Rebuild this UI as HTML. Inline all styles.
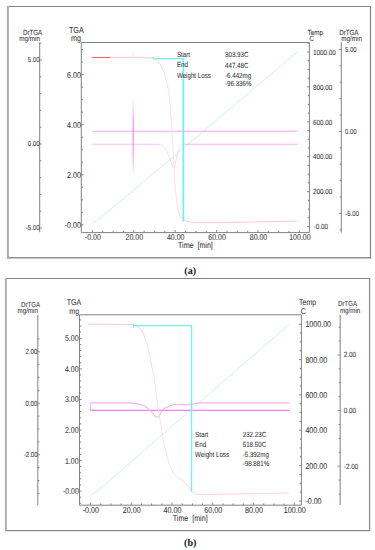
<!DOCTYPE html>
<html><head><meta charset="utf-8"><title>TGA curves</title>
<style>
html,body{margin:0;padding:0;background:#fff;}
body{width:375px;height:550px;overflow:hidden;font-family:"Liberation Sans",sans-serif;}
svg{display:block;}
text{text-rendering:geometricPrecision;}
</style></head>
<body>
<svg width="375" height="550" viewBox="0 0 375 550" font-family="Liberation Sans">
<rect x="0" y="0" width="375" height="550" fill="#fff"/>
<line x1="6.90" y1="6.50" x2="371.20" y2="6.50" stroke="#848484" stroke-width="1.1" />
<line x1="6.90" y1="257.80" x2="371.20" y2="257.80" stroke="#929292" stroke-width="1.4" />
<line x1="7.90" y1="6.00" x2="7.90" y2="258.50" stroke="#ababab" stroke-width="2.0" />
<line x1="370.50" y1="6.00" x2="370.50" y2="258.50" stroke="#8a8a8a" stroke-width="1.3" />
<line x1="81.30" y1="42.50" x2="309.40" y2="42.50" stroke="#828282" stroke-width="1.0" />
<line x1="81.30" y1="232.60" x2="309.40" y2="232.60" stroke="#828282" stroke-width="1.0" />
<line x1="81.30" y1="42.50" x2="81.30" y2="232.60" stroke="#828282" stroke-width="1.0" />
<line x1="309.40" y1="42.50" x2="309.40" y2="232.60" stroke="#828282" stroke-width="1.0" />
<line x1="92.40" y1="232.60" x2="92.40" y2="230.00" stroke="#828282" stroke-width="0.9" />
<line x1="102.75" y1="232.60" x2="102.75" y2="230.80" stroke="#828282" stroke-width="1.0" />
<line x1="113.10" y1="232.60" x2="113.10" y2="230.80" stroke="#828282" stroke-width="1.0" />
<line x1="123.45" y1="232.60" x2="123.45" y2="230.80" stroke="#828282" stroke-width="1.0" />
<line x1="133.80" y1="232.60" x2="133.80" y2="230.00" stroke="#828282" stroke-width="0.9" />
<line x1="144.15" y1="232.60" x2="144.15" y2="230.80" stroke="#828282" stroke-width="1.0" />
<line x1="154.50" y1="232.60" x2="154.50" y2="230.80" stroke="#828282" stroke-width="1.0" />
<line x1="164.85" y1="232.60" x2="164.85" y2="230.80" stroke="#828282" stroke-width="1.0" />
<line x1="175.20" y1="232.60" x2="175.20" y2="230.00" stroke="#828282" stroke-width="0.9" />
<line x1="185.55" y1="232.60" x2="185.55" y2="230.80" stroke="#828282" stroke-width="1.0" />
<line x1="195.90" y1="232.60" x2="195.90" y2="230.80" stroke="#828282" stroke-width="1.0" />
<line x1="206.25" y1="232.60" x2="206.25" y2="230.80" stroke="#828282" stroke-width="1.0" />
<line x1="216.60" y1="232.60" x2="216.60" y2="230.00" stroke="#828282" stroke-width="0.9" />
<line x1="226.95" y1="232.60" x2="226.95" y2="230.80" stroke="#828282" stroke-width="1.0" />
<line x1="237.30" y1="232.60" x2="237.30" y2="230.80" stroke="#828282" stroke-width="1.0" />
<line x1="247.65" y1="232.60" x2="247.65" y2="230.80" stroke="#828282" stroke-width="1.0" />
<line x1="258.00" y1="232.60" x2="258.00" y2="230.00" stroke="#828282" stroke-width="0.9" />
<line x1="268.35" y1="232.60" x2="268.35" y2="230.80" stroke="#828282" stroke-width="1.0" />
<line x1="278.70" y1="232.60" x2="278.70" y2="230.80" stroke="#828282" stroke-width="1.0" />
<line x1="289.05" y1="232.60" x2="289.05" y2="230.80" stroke="#828282" stroke-width="1.0" />
<line x1="299.40" y1="232.60" x2="299.40" y2="230.00" stroke="#828282" stroke-width="0.9" />
<text transform="translate(92.80,239.90) scale(1,1.2)" font-size="7.0" text-anchor="middle" fill="#333" font-family="Liberation Sans" stroke="#333" stroke-width="0.05" >-0.00</text>
<text transform="translate(134.30,239.90) scale(1,1.2)" font-size="7.0" text-anchor="middle" fill="#333" font-family="Liberation Sans" stroke="#333" stroke-width="0.05" >20.00</text>
<text transform="translate(175.70,239.90) scale(1,1.2)" font-size="7.0" text-anchor="middle" fill="#333" font-family="Liberation Sans" stroke="#333" stroke-width="0.05" >40.00</text>
<text transform="translate(217.10,239.90) scale(1,1.2)" font-size="7.0" text-anchor="middle" fill="#333" font-family="Liberation Sans" stroke="#333" stroke-width="0.05" >60.00</text>
<text transform="translate(258.50,239.90) scale(1,1.2)" font-size="7.0" text-anchor="middle" fill="#333" font-family="Liberation Sans" stroke="#333" stroke-width="0.05" >80.00</text>
<text transform="translate(299.90,239.90) scale(1,1.2)" font-size="7.0" text-anchor="middle" fill="#333" font-family="Liberation Sans" stroke="#333" stroke-width="0.05" >100.00</text>
<text transform="translate(178.00,248.20) scale(1,1.2)" font-size="7.1" text-anchor="start" fill="#333" font-family="Liberation Sans" stroke="#333" stroke-width="0.05" >Time&#160;&#160;[min]</text>
<line x1="81.30" y1="224.90" x2="83.70" y2="224.90" stroke="#828282" stroke-width="0.9" />
<line x1="81.30" y1="212.38" x2="83.00" y2="212.38" stroke="#828282" stroke-width="1.0" />
<line x1="81.30" y1="199.85" x2="83.00" y2="199.85" stroke="#828282" stroke-width="1.0" />
<line x1="81.30" y1="187.32" x2="83.00" y2="187.32" stroke="#828282" stroke-width="1.0" />
<line x1="81.30" y1="174.80" x2="83.70" y2="174.80" stroke="#828282" stroke-width="0.9" />
<line x1="81.30" y1="162.28" x2="83.00" y2="162.28" stroke="#828282" stroke-width="1.0" />
<line x1="81.30" y1="149.75" x2="83.00" y2="149.75" stroke="#828282" stroke-width="1.0" />
<line x1="81.30" y1="137.23" x2="83.00" y2="137.23" stroke="#828282" stroke-width="1.0" />
<line x1="81.30" y1="124.70" x2="83.70" y2="124.70" stroke="#828282" stroke-width="0.9" />
<line x1="81.30" y1="112.17" x2="83.00" y2="112.17" stroke="#828282" stroke-width="1.0" />
<line x1="81.30" y1="99.65" x2="83.00" y2="99.65" stroke="#828282" stroke-width="1.0" />
<line x1="81.30" y1="87.12" x2="83.00" y2="87.12" stroke="#828282" stroke-width="1.0" />
<line x1="81.30" y1="74.60" x2="83.70" y2="74.60" stroke="#828282" stroke-width="0.9" />
<line x1="81.30" y1="62.07" x2="83.00" y2="62.07" stroke="#828282" stroke-width="1.0" />
<line x1="81.30" y1="49.55" x2="83.00" y2="49.55" stroke="#828282" stroke-width="1.0" />
<text transform="translate(80.90,77.60) scale(1,1.2)" font-size="7.1" text-anchor="end" fill="#333" font-family="Liberation Sans" stroke="#333" stroke-width="0.05" >6.00</text>
<text transform="translate(80.90,127.70) scale(1,1.2)" font-size="7.1" text-anchor="end" fill="#333" font-family="Liberation Sans" stroke="#333" stroke-width="0.05" >4.00</text>
<text transform="translate(80.90,177.80) scale(1,1.2)" font-size="7.1" text-anchor="end" fill="#333" font-family="Liberation Sans" stroke="#333" stroke-width="0.05" >2.00</text>
<text transform="translate(80.90,227.90) scale(1,1.2)" font-size="7.1" text-anchor="end" fill="#333" font-family="Liberation Sans" stroke="#333" stroke-width="0.05" >-0.00</text>
<text transform="translate(76.30,32.90) scale(1,1.2)" font-size="7.2" text-anchor="middle" fill="#333" font-family="Liberation Sans" stroke="#333" stroke-width="0.05" >TGA</text>
<text transform="translate(76.00,41.30) scale(1,1.2)" font-size="7.2" text-anchor="middle" fill="#333" font-family="Liberation Sans" stroke="#333" stroke-width="0.05" >mg</text>
<line x1="39.70" y1="42.50" x2="39.70" y2="232.30" stroke="#828282" stroke-width="1.0" />
<line x1="39.70" y1="228.00" x2="42.00" y2="228.00" stroke="#828282" stroke-width="0.9" />
<line x1="39.70" y1="211.20" x2="41.30" y2="211.20" stroke="#828282" stroke-width="1.0" />
<line x1="39.70" y1="194.40" x2="41.30" y2="194.40" stroke="#828282" stroke-width="1.0" />
<line x1="39.70" y1="177.60" x2="41.30" y2="177.60" stroke="#828282" stroke-width="1.0" />
<line x1="39.70" y1="160.80" x2="41.30" y2="160.80" stroke="#828282" stroke-width="1.0" />
<line x1="39.70" y1="144.00" x2="42.00" y2="144.00" stroke="#828282" stroke-width="0.9" />
<line x1="39.70" y1="127.20" x2="41.30" y2="127.20" stroke="#828282" stroke-width="1.0" />
<line x1="39.70" y1="110.40" x2="41.30" y2="110.40" stroke="#828282" stroke-width="1.0" />
<line x1="39.70" y1="93.60" x2="41.30" y2="93.60" stroke="#828282" stroke-width="1.0" />
<line x1="39.70" y1="76.80" x2="41.30" y2="76.80" stroke="#828282" stroke-width="1.0" />
<line x1="39.70" y1="60.00" x2="42.00" y2="60.00" stroke="#828282" stroke-width="0.9" />
<line x1="39.70" y1="43.20" x2="41.30" y2="43.20" stroke="#828282" stroke-width="1.0" />
<text transform="translate(39.50,62.40) scale(1,1.2)" font-size="6.0" text-anchor="end" fill="#333" font-family="Liberation Sans" stroke="#333" stroke-width="0.05" >5.00</text>
<text transform="translate(39.50,146.40) scale(1,1.2)" font-size="6.0" text-anchor="end" fill="#333" font-family="Liberation Sans" stroke="#333" stroke-width="0.05" >0.00</text>
<text transform="translate(39.50,230.40) scale(1,1.2)" font-size="6.0" text-anchor="end" fill="#333" font-family="Liberation Sans" stroke="#333" stroke-width="0.05" >-5.00</text>
<text transform="translate(32.60,34.60) scale(1,1.2)" font-size="6.2" text-anchor="middle" fill="#333" font-family="Liberation Sans" stroke="#333" stroke-width="0.05" >DrTGA</text>
<text transform="translate(29.70,41.10) scale(1,1.2)" font-size="6.3" text-anchor="middle" fill="#333" font-family="Liberation Sans" stroke="#333" stroke-width="0.05" >mg/min</text>
<line x1="309.40" y1="226.50" x2="306.90" y2="226.50" stroke="#828282" stroke-width="0.9" />
<line x1="309.40" y1="217.78" x2="307.70" y2="217.78" stroke="#828282" stroke-width="1.0" />
<line x1="309.40" y1="209.05" x2="307.70" y2="209.05" stroke="#828282" stroke-width="1.0" />
<line x1="309.40" y1="200.32" x2="307.70" y2="200.32" stroke="#828282" stroke-width="1.0" />
<line x1="309.40" y1="191.60" x2="306.90" y2="191.60" stroke="#828282" stroke-width="0.9" />
<line x1="309.40" y1="182.88" x2="307.70" y2="182.88" stroke="#828282" stroke-width="1.0" />
<line x1="309.40" y1="174.15" x2="307.70" y2="174.15" stroke="#828282" stroke-width="1.0" />
<line x1="309.40" y1="165.43" x2="307.70" y2="165.43" stroke="#828282" stroke-width="1.0" />
<line x1="309.40" y1="156.70" x2="306.90" y2="156.70" stroke="#828282" stroke-width="0.9" />
<line x1="309.40" y1="147.98" x2="307.70" y2="147.98" stroke="#828282" stroke-width="1.0" />
<line x1="309.40" y1="139.25" x2="307.70" y2="139.25" stroke="#828282" stroke-width="1.0" />
<line x1="309.40" y1="130.53" x2="307.70" y2="130.53" stroke="#828282" stroke-width="1.0" />
<line x1="309.40" y1="121.80" x2="306.90" y2="121.80" stroke="#828282" stroke-width="0.9" />
<line x1="309.40" y1="113.08" x2="307.70" y2="113.08" stroke="#828282" stroke-width="1.0" />
<line x1="309.40" y1="104.35" x2="307.70" y2="104.35" stroke="#828282" stroke-width="1.0" />
<line x1="309.40" y1="95.62" x2="307.70" y2="95.62" stroke="#828282" stroke-width="1.0" />
<line x1="309.40" y1="86.90" x2="306.90" y2="86.90" stroke="#828282" stroke-width="0.9" />
<line x1="309.40" y1="78.18" x2="307.70" y2="78.18" stroke="#828282" stroke-width="1.0" />
<line x1="309.40" y1="69.45" x2="307.70" y2="69.45" stroke="#828282" stroke-width="1.0" />
<line x1="309.40" y1="60.73" x2="307.70" y2="60.73" stroke="#828282" stroke-width="1.0" />
<line x1="309.40" y1="52.00" x2="306.90" y2="52.00" stroke="#828282" stroke-width="0.9" />
<line x1="309.40" y1="43.28" x2="307.70" y2="43.28" stroke="#828282" stroke-width="1.0" />
<text transform="translate(313.00,54.70) scale(1,1.2)" font-size="6.3" text-anchor="start" fill="#333" font-family="Liberation Sans" stroke="#333" stroke-width="0.05" >1000.00</text>
<text transform="translate(313.00,89.60) scale(1,1.2)" font-size="6.3" text-anchor="start" fill="#333" font-family="Liberation Sans" stroke="#333" stroke-width="0.05" >800.00</text>
<text transform="translate(313.00,124.50) scale(1,1.2)" font-size="6.3" text-anchor="start" fill="#333" font-family="Liberation Sans" stroke="#333" stroke-width="0.05" >600.00</text>
<text transform="translate(313.00,159.40) scale(1,1.2)" font-size="6.3" text-anchor="start" fill="#333" font-family="Liberation Sans" stroke="#333" stroke-width="0.05" >400.00</text>
<text transform="translate(313.00,194.30) scale(1,1.2)" font-size="6.3" text-anchor="start" fill="#333" font-family="Liberation Sans" stroke="#333" stroke-width="0.05" >200.00</text>
<text transform="translate(313.60,229.20) scale(1,1.2)" font-size="6.3" text-anchor="start" fill="#333" font-family="Liberation Sans" stroke="#333" stroke-width="0.05" >-0.00</text>
<text transform="translate(307.60,34.50) scale(1,1.2)" font-size="6.3" text-anchor="start" fill="#333" font-family="Liberation Sans" stroke="#333" stroke-width="0.05" >Temp</text>
<text transform="translate(309.40,41.10) scale(1,1.2)" font-size="6.3" text-anchor="start" fill="#333" font-family="Liberation Sans" stroke="#333" stroke-width="0.05" >C</text>
<line x1="341.30" y1="42.20" x2="341.30" y2="232.70" stroke="#828282" stroke-width="1.0" />
<line x1="341.30" y1="229.80" x2="339.70" y2="229.80" stroke="#828282" stroke-width="1.0" />
<line x1="341.30" y1="213.40" x2="338.70" y2="213.40" stroke="#828282" stroke-width="0.9" />
<line x1="341.30" y1="197.00" x2="339.70" y2="197.00" stroke="#828282" stroke-width="1.0" />
<line x1="341.30" y1="180.60" x2="339.70" y2="180.60" stroke="#828282" stroke-width="1.0" />
<line x1="341.30" y1="164.20" x2="339.70" y2="164.20" stroke="#828282" stroke-width="1.0" />
<line x1="341.30" y1="147.80" x2="339.70" y2="147.80" stroke="#828282" stroke-width="1.0" />
<line x1="341.30" y1="131.40" x2="338.70" y2="131.40" stroke="#828282" stroke-width="0.9" />
<line x1="341.30" y1="115.00" x2="339.70" y2="115.00" stroke="#828282" stroke-width="1.0" />
<line x1="341.30" y1="98.60" x2="339.70" y2="98.60" stroke="#828282" stroke-width="1.0" />
<line x1="341.30" y1="82.20" x2="339.70" y2="82.20" stroke="#828282" stroke-width="1.0" />
<line x1="341.30" y1="65.80" x2="339.70" y2="65.80" stroke="#828282" stroke-width="1.0" />
<line x1="341.30" y1="49.40" x2="338.70" y2="49.40" stroke="#828282" stroke-width="0.9" />
<text transform="translate(344.90,52.00) scale(1,1.2)" font-size="6.0" text-anchor="start" fill="#333" font-family="Liberation Sans" stroke="#333" stroke-width="0.05" >5.00</text>
<text transform="translate(344.90,134.00) scale(1,1.2)" font-size="6.0" text-anchor="start" fill="#333" font-family="Liberation Sans" stroke="#333" stroke-width="0.05" >0.00</text>
<text transform="translate(345.30,216.00) scale(1,1.2)" font-size="6.0" text-anchor="start" fill="#333" font-family="Liberation Sans" stroke="#333" stroke-width="0.05" >-5.00</text>
<text transform="translate(348.80,34.50) scale(1,1.2)" font-size="6.2" text-anchor="middle" fill="#333" font-family="Liberation Sans" stroke="#333" stroke-width="0.05" >DrTGA</text>
<text transform="translate(351.60,41.10) scale(1,1.2)" font-size="6.3" text-anchor="middle" fill="#333" font-family="Liberation Sans" stroke="#333" stroke-width="0.05" >mg/min</text>
<path d="M92.10,223.20 L100.70,217.90 L297.60,51.80" fill="none" stroke="#c2f7dc" stroke-width="1.0" stroke-linejoin="round" />
<line x1="92.30" y1="131.30" x2="297.60" y2="131.30" stroke="#f5a6f5" stroke-width="1.1" />
<line x1="92.30" y1="144.20" x2="158.00" y2="144.20" stroke="#f6c0f6" stroke-width="1.1" />
<line x1="183.00" y1="144.20" x2="297.60" y2="144.20" stroke="#f4b0f4" stroke-width="1.1" />
<path d="M158,144.2 C161,144.4 164,146 166,149.5 C168,153.5 170,159 171.5,163.5 C172.5,166 173.2,168 173.8,168 C174.5,168 175.5,163 177,156 C178.5,150 180,146.5 181.5,145.2 C182.2,144.5 182.6,144.2 183.2,144.2" fill="none" stroke="#f8d2f8" stroke-width="1.0" stroke-linejoin="round" />
<defs><linearGradient id="spk" x1="0" y1="98" x2="0" y2="175" gradientUnits="userSpaceOnUse"><stop offset="0" stop-color="#ee66ee" stop-opacity="0.05"/><stop offset="0.12" stop-color="#ee66ee" stop-opacity="0.3"/><stop offset="0.3" stop-color="#ee66ee" stop-opacity="0.75"/><stop offset="0.5" stop-color="#ee66ee" stop-opacity="0.85"/><stop offset="0.8" stop-color="#ee66ee" stop-opacity="0.55"/><stop offset="1" stop-color="#ee66ee" stop-opacity="0.05"/></linearGradient></defs>
<rect x="132.6" y="98" width="1.15" height="77" fill="url(#spk)"/>
<defs><linearGradient id="pka" x1="0" y1="56" x2="0" y2="224" gradientUnits="userSpaceOnUse"><stop offset="0" stop-color="#fbcbcf"/><stop offset="0.06" stop-color="#fbcfd2"/><stop offset="0.15" stop-color="#fde0e2"/><stop offset="0.85" stop-color="#fde0e2"/><stop offset="0.96" stop-color="#fbd0d3"/><stop offset="1" stop-color="#fbcbcf"/></linearGradient></defs>
<path d="M110,57.5 L150,57.8 C154,58 156,59 157.3,60.5 C159.5,63 161,65.5 162.4,68.5 C164,72 165,75 165.6,78 C166.5,81 167.3,84 167.8,86.7 C168.3,89 168.7,92 169,94 C170,105 171,118 171.9,130 C172.5,140 172.9,146 173.1,150 C173.5,160 173.8,165 174.1,170 C174.6,180 175.2,188 176,195 C176.8,203 177.8,209 179.6,215.3 C181.5,219 184.5,220.8 188,221.6 C192,222.2 196,222.5 200,222.6 L230,222.4 L297,221.1" fill="none" stroke="url(#pka)" stroke-width="1.0" stroke-linejoin="round" />
<line x1="133.10" y1="57.60" x2="133.10" y2="51.60" stroke="#fcd3d6" stroke-width="0.9" />
<line x1="91.70" y1="57.50" x2="110.40" y2="57.50" stroke="#f56868" stroke-width="1.1" />
<line x1="153.30" y1="58.60" x2="183.30" y2="58.60" stroke="#6cf3f3" stroke-width="1.15" />
<line x1="183.30" y1="58.10" x2="183.30" y2="221.50" stroke="#6cf3f3" stroke-width="1.7" />
<line x1="153.30" y1="56.90" x2="153.30" y2="59.80" stroke="#6cf3f3" stroke-width="1.0" />
<text transform="translate(176.90,57.00) scale(1,1.2)" font-size="6.2" text-anchor="start" fill="#333" font-family="Liberation Sans" stroke="#333" stroke-width="0.05" >Start</text>
<text transform="translate(176.90,67.30) scale(1,1.2)" font-size="6.2" text-anchor="start" fill="#333" font-family="Liberation Sans" stroke="#333" stroke-width="0.05" >End</text>
<text transform="translate(176.90,77.50) scale(1,1.2)" font-size="6.2" text-anchor="start" fill="#333" font-family="Liberation Sans" stroke="#333" stroke-width="0.05" >Weight Loss</text>
<text transform="translate(225.00,57.20) scale(1,1.2)" font-size="6.2" text-anchor="start" fill="#333" font-family="Liberation Sans" stroke="#333" stroke-width="0.05" >303.93C</text>
<text transform="translate(225.00,67.50) scale(1,1.2)" font-size="6.2" text-anchor="start" fill="#333" font-family="Liberation Sans" stroke="#333" stroke-width="0.05" >447.48C</text>
<text transform="translate(225.00,77.50) scale(1,1.2)" font-size="6.2" text-anchor="start" fill="#333" font-family="Liberation Sans" stroke="#333" stroke-width="0.05" >-6.442mg</text>
<text transform="translate(225.00,85.80) scale(1,1.2)" font-size="6.2" text-anchor="start" fill="#333" font-family="Liberation Sans" stroke="#333" stroke-width="0.05" >-96.336%</text>
<text x="190.20" y="274.40" font-size="10.2" text-anchor="middle" fill="#1a1a1a" font-weight="bold" font-family="Liberation Serif" >(a)</text>
<line x1="4.90" y1="278.50" x2="370.20" y2="278.50" stroke="#848484" stroke-width="1.1" />
<line x1="4.90" y1="530.60" x2="370.20" y2="530.60" stroke="#8a8a8a" stroke-width="1.3" />
<line x1="5.90" y1="278.00" x2="5.90" y2="531.20" stroke="#b0b0b0" stroke-width="2.0" />
<line x1="369.60" y1="278.00" x2="369.60" y2="531.20" stroke="#8f8f8f" stroke-width="1.3" />
<line x1="79.50" y1="314.80" x2="301.40" y2="314.80" stroke="#828282" stroke-width="1.0" />
<line x1="79.50" y1="505.20" x2="301.40" y2="505.20" stroke="#828282" stroke-width="1.0" />
<line x1="79.50" y1="314.80" x2="79.50" y2="505.20" stroke="#828282" stroke-width="1.0" />
<line x1="301.40" y1="314.80" x2="301.40" y2="505.20" stroke="#828282" stroke-width="1.0" />
<line x1="90.50" y1="505.20" x2="90.50" y2="502.60" stroke="#828282" stroke-width="0.9" />
<line x1="100.69" y1="505.20" x2="100.69" y2="503.40" stroke="#828282" stroke-width="1.0" />
<line x1="110.88" y1="505.20" x2="110.88" y2="503.40" stroke="#828282" stroke-width="1.0" />
<line x1="121.07" y1="505.20" x2="121.07" y2="503.40" stroke="#828282" stroke-width="1.0" />
<line x1="131.26" y1="505.20" x2="131.26" y2="502.60" stroke="#828282" stroke-width="0.9" />
<line x1="141.45" y1="505.20" x2="141.45" y2="503.40" stroke="#828282" stroke-width="1.0" />
<line x1="151.64" y1="505.20" x2="151.64" y2="503.40" stroke="#828282" stroke-width="1.0" />
<line x1="161.83" y1="505.20" x2="161.83" y2="503.40" stroke="#828282" stroke-width="1.0" />
<line x1="172.02" y1="505.20" x2="172.02" y2="502.60" stroke="#828282" stroke-width="0.9" />
<line x1="182.21" y1="505.20" x2="182.21" y2="503.40" stroke="#828282" stroke-width="1.0" />
<line x1="192.40" y1="505.20" x2="192.40" y2="503.40" stroke="#828282" stroke-width="1.0" />
<line x1="202.59" y1="505.20" x2="202.59" y2="503.40" stroke="#828282" stroke-width="1.0" />
<line x1="212.78" y1="505.20" x2="212.78" y2="502.60" stroke="#828282" stroke-width="0.9" />
<line x1="222.97" y1="505.20" x2="222.97" y2="503.40" stroke="#828282" stroke-width="1.0" />
<line x1="233.16" y1="505.20" x2="233.16" y2="503.40" stroke="#828282" stroke-width="1.0" />
<line x1="243.35" y1="505.20" x2="243.35" y2="503.40" stroke="#828282" stroke-width="1.0" />
<line x1="253.54" y1="505.20" x2="253.54" y2="502.60" stroke="#828282" stroke-width="0.9" />
<line x1="263.73" y1="505.20" x2="263.73" y2="503.40" stroke="#828282" stroke-width="1.0" />
<line x1="273.92" y1="505.20" x2="273.92" y2="503.40" stroke="#828282" stroke-width="1.0" />
<line x1="284.11" y1="505.20" x2="284.11" y2="503.40" stroke="#828282" stroke-width="1.0" />
<line x1="294.30" y1="505.20" x2="294.30" y2="502.60" stroke="#828282" stroke-width="0.9" />
<text transform="translate(90.90,512.60) scale(1,1.2)" font-size="7.2" text-anchor="middle" fill="#333" font-family="Liberation Sans" stroke="#333" stroke-width="0.05" >-0.00</text>
<text transform="translate(131.66,512.60) scale(1,1.2)" font-size="7.2" text-anchor="middle" fill="#333" font-family="Liberation Sans" stroke="#333" stroke-width="0.05" >20.00</text>
<text transform="translate(172.42,512.60) scale(1,1.2)" font-size="7.2" text-anchor="middle" fill="#333" font-family="Liberation Sans" stroke="#333" stroke-width="0.05" >40.00</text>
<text transform="translate(213.18,512.60) scale(1,1.2)" font-size="7.2" text-anchor="middle" fill="#333" font-family="Liberation Sans" stroke="#333" stroke-width="0.05" >60.00</text>
<text transform="translate(253.94,512.60) scale(1,1.2)" font-size="7.2" text-anchor="middle" fill="#333" font-family="Liberation Sans" stroke="#333" stroke-width="0.05" >80.00</text>
<text transform="translate(294.70,512.60) scale(1,1.2)" font-size="7.2" text-anchor="middle" fill="#333" font-family="Liberation Sans" stroke="#333" stroke-width="0.05" >100.00</text>
<text transform="translate(172.80,520.80) scale(1,1.2)" font-size="7.1" text-anchor="start" fill="#333" font-family="Liberation Sans" stroke="#333" stroke-width="0.05" >Time&#160;&#160;[min]</text>
<line x1="79.50" y1="503.32" x2="81.20" y2="503.32" stroke="#828282" stroke-width="1.0" />
<line x1="79.50" y1="497.21" x2="81.20" y2="497.21" stroke="#828282" stroke-width="1.0" />
<line x1="79.50" y1="491.10" x2="81.90" y2="491.10" stroke="#828282" stroke-width="0.9" />
<line x1="79.50" y1="484.99" x2="81.20" y2="484.99" stroke="#828282" stroke-width="1.0" />
<line x1="79.50" y1="478.88" x2="81.20" y2="478.88" stroke="#828282" stroke-width="1.0" />
<line x1="79.50" y1="472.76" x2="81.20" y2="472.76" stroke="#828282" stroke-width="1.0" />
<line x1="79.50" y1="466.65" x2="81.20" y2="466.65" stroke="#828282" stroke-width="1.0" />
<line x1="79.50" y1="460.54" x2="81.90" y2="460.54" stroke="#828282" stroke-width="0.9" />
<line x1="79.50" y1="454.43" x2="81.20" y2="454.43" stroke="#828282" stroke-width="1.0" />
<line x1="79.50" y1="448.32" x2="81.20" y2="448.32" stroke="#828282" stroke-width="1.0" />
<line x1="79.50" y1="442.20" x2="81.20" y2="442.20" stroke="#828282" stroke-width="1.0" />
<line x1="79.50" y1="436.09" x2="81.20" y2="436.09" stroke="#828282" stroke-width="1.0" />
<line x1="79.50" y1="429.98" x2="81.90" y2="429.98" stroke="#828282" stroke-width="0.9" />
<line x1="79.50" y1="423.87" x2="81.20" y2="423.87" stroke="#828282" stroke-width="1.0" />
<line x1="79.50" y1="417.76" x2="81.20" y2="417.76" stroke="#828282" stroke-width="1.0" />
<line x1="79.50" y1="411.64" x2="81.20" y2="411.64" stroke="#828282" stroke-width="1.0" />
<line x1="79.50" y1="405.53" x2="81.20" y2="405.53" stroke="#828282" stroke-width="1.0" />
<line x1="79.50" y1="399.42" x2="81.90" y2="399.42" stroke="#828282" stroke-width="0.9" />
<line x1="79.50" y1="393.31" x2="81.20" y2="393.31" stroke="#828282" stroke-width="1.0" />
<line x1="79.50" y1="387.20" x2="81.20" y2="387.20" stroke="#828282" stroke-width="1.0" />
<line x1="79.50" y1="381.08" x2="81.20" y2="381.08" stroke="#828282" stroke-width="1.0" />
<line x1="79.50" y1="374.97" x2="81.20" y2="374.97" stroke="#828282" stroke-width="1.0" />
<line x1="79.50" y1="368.86" x2="81.90" y2="368.86" stroke="#828282" stroke-width="0.9" />
<line x1="79.50" y1="362.75" x2="81.20" y2="362.75" stroke="#828282" stroke-width="1.0" />
<line x1="79.50" y1="356.64" x2="81.20" y2="356.64" stroke="#828282" stroke-width="1.0" />
<line x1="79.50" y1="350.52" x2="81.20" y2="350.52" stroke="#828282" stroke-width="1.0" />
<line x1="79.50" y1="344.41" x2="81.20" y2="344.41" stroke="#828282" stroke-width="1.0" />
<line x1="79.50" y1="338.30" x2="81.90" y2="338.30" stroke="#828282" stroke-width="0.9" />
<line x1="79.50" y1="332.19" x2="81.20" y2="332.19" stroke="#828282" stroke-width="1.0" />
<line x1="79.50" y1="326.08" x2="81.20" y2="326.08" stroke="#828282" stroke-width="1.0" />
<line x1="79.50" y1="319.96" x2="81.20" y2="319.96" stroke="#828282" stroke-width="1.0" />
<text transform="translate(78.60,341.30) scale(1,1.2)" font-size="7.0" text-anchor="end" fill="#333" font-family="Liberation Sans" stroke="#333" stroke-width="0.05" >5.00</text>
<text transform="translate(78.60,371.86) scale(1,1.2)" font-size="7.0" text-anchor="end" fill="#333" font-family="Liberation Sans" stroke="#333" stroke-width="0.05" >4.00</text>
<text transform="translate(78.60,402.42) scale(1,1.2)" font-size="7.0" text-anchor="end" fill="#333" font-family="Liberation Sans" stroke="#333" stroke-width="0.05" >3.00</text>
<text transform="translate(78.60,432.98) scale(1,1.2)" font-size="7.0" text-anchor="end" fill="#333" font-family="Liberation Sans" stroke="#333" stroke-width="0.05" >2.00</text>
<text transform="translate(78.60,463.54) scale(1,1.2)" font-size="7.0" text-anchor="end" fill="#333" font-family="Liberation Sans" stroke="#333" stroke-width="0.05" >1.00</text>
<text transform="translate(78.90,494.10) scale(1,1.2)" font-size="7.0" text-anchor="end" fill="#333" font-family="Liberation Sans" stroke="#333" stroke-width="0.05" >-0.00</text>
<text transform="translate(74.00,305.10) scale(1,1.2)" font-size="7.0" text-anchor="middle" fill="#333" font-family="Liberation Sans" stroke="#333" stroke-width="0.05" >TGA</text>
<text transform="translate(74.20,313.60) scale(1,1.2)" font-size="7.0" text-anchor="middle" fill="#333" font-family="Liberation Sans" stroke="#333" stroke-width="0.05" >mg</text>
<line x1="37.80" y1="315.30" x2="37.80" y2="505.30" stroke="#828282" stroke-width="1.0" />
<line x1="37.80" y1="493.43" x2="39.40" y2="493.43" stroke="#828282" stroke-width="1.0" />
<line x1="37.80" y1="480.55" x2="39.40" y2="480.55" stroke="#828282" stroke-width="1.0" />
<line x1="37.80" y1="467.68" x2="39.40" y2="467.68" stroke="#828282" stroke-width="1.0" />
<line x1="37.80" y1="454.80" x2="40.10" y2="454.80" stroke="#828282" stroke-width="0.9" />
<line x1="37.80" y1="441.93" x2="39.40" y2="441.93" stroke="#828282" stroke-width="1.0" />
<line x1="37.80" y1="429.05" x2="39.40" y2="429.05" stroke="#828282" stroke-width="1.0" />
<line x1="37.80" y1="416.18" x2="39.40" y2="416.18" stroke="#828282" stroke-width="1.0" />
<line x1="37.80" y1="403.30" x2="40.10" y2="403.30" stroke="#828282" stroke-width="0.9" />
<line x1="37.80" y1="390.43" x2="39.40" y2="390.43" stroke="#828282" stroke-width="1.0" />
<line x1="37.80" y1="377.55" x2="39.40" y2="377.55" stroke="#828282" stroke-width="1.0" />
<line x1="37.80" y1="364.68" x2="39.40" y2="364.68" stroke="#828282" stroke-width="1.0" />
<line x1="37.80" y1="351.80" x2="40.10" y2="351.80" stroke="#828282" stroke-width="0.9" />
<line x1="37.80" y1="338.93" x2="39.40" y2="338.93" stroke="#828282" stroke-width="1.0" />
<text transform="translate(37.40,354.10) scale(1,1.2)" font-size="6.1" text-anchor="end" fill="#333" font-family="Liberation Sans" stroke="#333" stroke-width="0.05" >2.00</text>
<text transform="translate(37.40,405.60) scale(1,1.2)" font-size="6.1" text-anchor="end" fill="#333" font-family="Liberation Sans" stroke="#333" stroke-width="0.05" >0.00</text>
<text transform="translate(37.60,456.90) scale(1,1.2)" font-size="6.1" text-anchor="end" fill="#333" font-family="Liberation Sans" stroke="#333" stroke-width="0.05" >-2.00</text>
<text transform="translate(30.60,306.70) scale(1,1.2)" font-size="6.1" text-anchor="middle" fill="#333" font-family="Liberation Sans" stroke="#333" stroke-width="0.05" >DrTGA</text>
<text transform="translate(27.70,313.20) scale(1,1.2)" font-size="6.2" text-anchor="middle" fill="#333" font-family="Liberation Sans" stroke="#333" stroke-width="0.05" >mg/min</text>
<line x1="301.40" y1="501.00" x2="298.90" y2="501.00" stroke="#828282" stroke-width="0.9" />
<line x1="301.40" y1="492.16" x2="299.70" y2="492.16" stroke="#828282" stroke-width="1.0" />
<line x1="301.40" y1="483.32" x2="299.70" y2="483.32" stroke="#828282" stroke-width="1.0" />
<line x1="301.40" y1="474.48" x2="299.70" y2="474.48" stroke="#828282" stroke-width="1.0" />
<line x1="301.40" y1="465.64" x2="298.90" y2="465.64" stroke="#828282" stroke-width="0.9" />
<line x1="301.40" y1="456.80" x2="299.70" y2="456.80" stroke="#828282" stroke-width="1.0" />
<line x1="301.40" y1="447.96" x2="299.70" y2="447.96" stroke="#828282" stroke-width="1.0" />
<line x1="301.40" y1="439.12" x2="299.70" y2="439.12" stroke="#828282" stroke-width="1.0" />
<line x1="301.40" y1="430.28" x2="298.90" y2="430.28" stroke="#828282" stroke-width="0.9" />
<line x1="301.40" y1="421.44" x2="299.70" y2="421.44" stroke="#828282" stroke-width="1.0" />
<line x1="301.40" y1="412.60" x2="299.70" y2="412.60" stroke="#828282" stroke-width="1.0" />
<line x1="301.40" y1="403.76" x2="299.70" y2="403.76" stroke="#828282" stroke-width="1.0" />
<line x1="301.40" y1="394.92" x2="298.90" y2="394.92" stroke="#828282" stroke-width="0.9" />
<line x1="301.40" y1="386.08" x2="299.70" y2="386.08" stroke="#828282" stroke-width="1.0" />
<line x1="301.40" y1="377.24" x2="299.70" y2="377.24" stroke="#828282" stroke-width="1.0" />
<line x1="301.40" y1="368.40" x2="299.70" y2="368.40" stroke="#828282" stroke-width="1.0" />
<line x1="301.40" y1="359.56" x2="298.90" y2="359.56" stroke="#828282" stroke-width="0.9" />
<line x1="301.40" y1="350.72" x2="299.70" y2="350.72" stroke="#828282" stroke-width="1.0" />
<line x1="301.40" y1="341.88" x2="299.70" y2="341.88" stroke="#828282" stroke-width="1.0" />
<line x1="301.40" y1="333.04" x2="299.70" y2="333.04" stroke="#828282" stroke-width="1.0" />
<line x1="301.40" y1="324.20" x2="298.90" y2="324.20" stroke="#828282" stroke-width="0.9" />
<text transform="translate(305.40,327.20) scale(1,1.2)" font-size="7.1" text-anchor="start" fill="#333" font-family="Liberation Sans" stroke="#333" stroke-width="0.05" >1000.00</text>
<text transform="translate(305.40,362.56) scale(1,1.2)" font-size="7.1" text-anchor="start" fill="#333" font-family="Liberation Sans" stroke="#333" stroke-width="0.05" >800.00</text>
<text transform="translate(305.40,397.92) scale(1,1.2)" font-size="7.1" text-anchor="start" fill="#333" font-family="Liberation Sans" stroke="#333" stroke-width="0.05" >600.00</text>
<text transform="translate(305.40,433.28) scale(1,1.2)" font-size="7.1" text-anchor="start" fill="#333" font-family="Liberation Sans" stroke="#333" stroke-width="0.05" >400.00</text>
<text transform="translate(305.40,468.64) scale(1,1.2)" font-size="7.1" text-anchor="start" fill="#333" font-family="Liberation Sans" stroke="#333" stroke-width="0.05" >200.00</text>
<text transform="translate(305.40,504.00) scale(1,1.2)" font-size="7.1" text-anchor="start" fill="#333" font-family="Liberation Sans" stroke="#333" stroke-width="0.05" >-0.00</text>
<text transform="translate(299.00,305.10) scale(1,1.2)" font-size="7.0" text-anchor="start" fill="#333" font-family="Liberation Sans" stroke="#333" stroke-width="0.05" >Temp</text>
<text transform="translate(300.80,313.50) scale(1,1.2)" font-size="7.0" text-anchor="start" fill="#333" font-family="Liberation Sans" stroke="#333" stroke-width="0.05" >C</text>
<line x1="340.20" y1="314.80" x2="340.20" y2="505.00" stroke="#828282" stroke-width="1.0" />
<line x1="340.20" y1="494.00" x2="338.60" y2="494.00" stroke="#828282" stroke-width="1.0" />
<line x1="340.20" y1="480.10" x2="338.60" y2="480.10" stroke="#828282" stroke-width="1.0" />
<line x1="340.20" y1="466.20" x2="337.60" y2="466.20" stroke="#828282" stroke-width="0.9" />
<line x1="340.20" y1="452.30" x2="338.60" y2="452.30" stroke="#828282" stroke-width="1.0" />
<line x1="340.20" y1="438.40" x2="338.60" y2="438.40" stroke="#828282" stroke-width="1.0" />
<line x1="340.20" y1="424.50" x2="338.60" y2="424.50" stroke="#828282" stroke-width="1.0" />
<line x1="340.20" y1="410.60" x2="337.60" y2="410.60" stroke="#828282" stroke-width="0.9" />
<line x1="340.20" y1="396.70" x2="338.60" y2="396.70" stroke="#828282" stroke-width="1.0" />
<line x1="340.20" y1="382.80" x2="338.60" y2="382.80" stroke="#828282" stroke-width="1.0" />
<line x1="340.20" y1="368.90" x2="338.60" y2="368.90" stroke="#828282" stroke-width="1.0" />
<line x1="340.20" y1="355.00" x2="337.60" y2="355.00" stroke="#828282" stroke-width="0.9" />
<line x1="340.20" y1="341.10" x2="338.60" y2="341.10" stroke="#828282" stroke-width="1.0" />
<line x1="340.20" y1="327.20" x2="338.60" y2="327.20" stroke="#828282" stroke-width="1.0" />
<text transform="translate(343.80,357.30) scale(1,1.2)" font-size="6.3" text-anchor="start" fill="#333" font-family="Liberation Sans" stroke="#333" stroke-width="0.05" >2.00</text>
<text transform="translate(343.80,412.90) scale(1,1.2)" font-size="6.3" text-anchor="start" fill="#333" font-family="Liberation Sans" stroke="#333" stroke-width="0.05" >0.00</text>
<text transform="translate(344.00,468.50) scale(1,1.2)" font-size="6.3" text-anchor="start" fill="#333" font-family="Liberation Sans" stroke="#333" stroke-width="0.05" >-2.00</text>
<text transform="translate(347.50,306.10) scale(1,1.2)" font-size="6.1" text-anchor="middle" fill="#333" font-family="Liberation Sans" stroke="#333" stroke-width="0.05" >DrTGA</text>
<text transform="translate(350.10,313.20) scale(1,1.2)" font-size="6.2" text-anchor="middle" fill="#333" font-family="Liberation Sans" stroke="#333" stroke-width="0.05" >mg/min</text>
<path d="M90.60,495.40 L99.00,489.50 L109.30,480.80 L289.00,324.40" fill="none" stroke="#c2f7dc" stroke-width="1.0" stroke-linejoin="round" />
<path d="M90.4,410.4 L289.7,410.4" fill="none" stroke="#f180f1" stroke-width="1.1" stroke-linejoin="round" />
<path d="M90.4,410.4 L90.4,402.9 L127.7,402.9 C135,403.1 141,404.5 145,406.5 C148,408 150,410 152,412.5 C154,415.5 156,417.2 157.5,417.2 C159,417.2 160.5,413 162,410.3 C164,408.3 165.5,407.6 167.4,407 C170,405.8 172,404.9 174,404.5 C177,404 180,404.1 184.5,404.6 C188,404.9 190,404.9 191.9,404.6 C194,403.8 197,402.9 200.5,402.9 L289.7,402.9" fill="none" stroke="#f5b0f5" stroke-width="1.1" stroke-linejoin="round" />
<defs><linearGradient id="pkb" x1="0" y1="323" x2="0" y2="496" gradientUnits="userSpaceOnUse"><stop offset="0" stop-color="#fbcbcf"/><stop offset="0.05" stop-color="#fbcfd2"/><stop offset="0.15" stop-color="#fddde0"/><stop offset="0.85" stop-color="#fddde0"/><stop offset="0.95" stop-color="#fcd8db"/><stop offset="1" stop-color="#fcd6d9"/></linearGradient></defs>
<path d="M88.2,324.1 L133,324.6 C137,325.5 140,328 142,331 C145,337 148,346 149.5,354.5 C151,362 152.5,370 154,378 C157,398 159.5,418 161.7,430 C163,440 164.5,446 166,451.3 C168,460 169,464 170.3,466.3 C172,471 173,473 174.5,474.8 C177,477.5 179.5,478.8 182,480.1 C184.5,482 186.5,484.5 188.4,486.5 C190,489 191.5,491 192.7,491.9 C194.5,493.5 196.5,494.3 199,494.6 L288.7,493.0" fill="none" stroke="url(#pkb)" stroke-width="1.0" stroke-linejoin="round" />
<line x1="133.10" y1="325.60" x2="191.60" y2="325.60" stroke="#6cf3f3" stroke-width="1.4" />
<line x1="191.55" y1="324.90" x2="191.55" y2="491.90" stroke="#6cf3f3" stroke-width="1.35" />
<line x1="133.60" y1="323.90" x2="133.60" y2="327.40" stroke="#6cf3f3" stroke-width="1.3" />
<text transform="translate(195.10,436.70) scale(1,1.2)" font-size="6.2" text-anchor="start" fill="#333" font-family="Liberation Sans" stroke="#333" stroke-width="0.05" >Start</text>
<text transform="translate(195.10,446.70) scale(1,1.2)" font-size="6.2" text-anchor="start" fill="#333" font-family="Liberation Sans" stroke="#333" stroke-width="0.05" >End</text>
<text transform="translate(195.10,456.90) scale(1,1.2)" font-size="6.2" text-anchor="start" fill="#333" font-family="Liberation Sans" stroke="#333" stroke-width="0.05" >Weight Loss</text>
<text transform="translate(242.70,436.80) scale(1,1.2)" font-size="6.2" text-anchor="start" fill="#333" font-family="Liberation Sans" stroke="#333" stroke-width="0.05" >232.23C</text>
<text transform="translate(242.70,446.80) scale(1,1.2)" font-size="6.2" text-anchor="start" fill="#333" font-family="Liberation Sans" stroke="#333" stroke-width="0.05" >518.50C</text>
<text transform="translate(242.70,457.10) scale(1,1.2)" font-size="6.2" text-anchor="start" fill="#333" font-family="Liberation Sans" stroke="#333" stroke-width="0.05" >-5.392mg</text>
<text transform="translate(242.70,465.50) scale(1,1.2)" font-size="6.2" text-anchor="start" fill="#333" font-family="Liberation Sans" stroke="#333" stroke-width="0.05" >-98.881%</text>
<text x="190.30" y="546.20" font-size="10.2" text-anchor="middle" fill="#1a1a1a" font-weight="bold" font-family="Liberation Serif" >(b)</text>
</svg>
</body></html>
